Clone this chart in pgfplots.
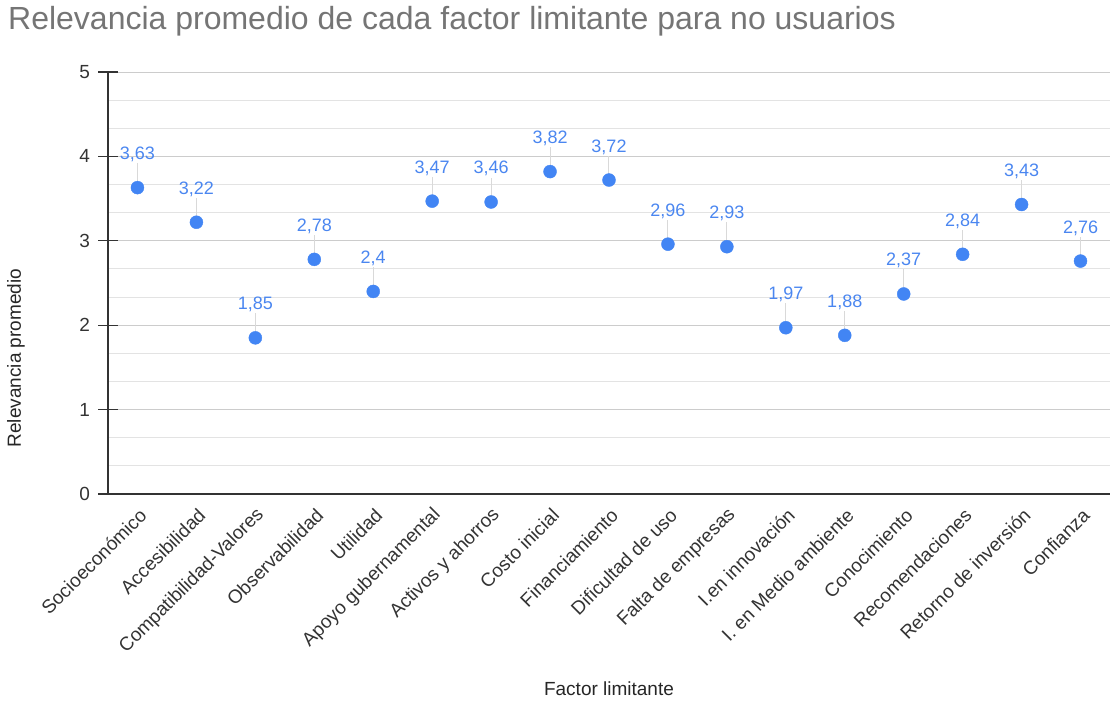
\documentclass[border=0pt]{standalone}
\usepackage{fontspec}
\setmainfont{Liberation Sans}
\usepackage{pgfplots}
\usepackage{pgfplotstable}
\pgfplotsset{compat=1.18}
\definecolor{ptblue}{HTML}{4285F4}
\definecolor{lblblue}{HTML}{4A86F0}
\definecolor{ttlgray}{HTML}{757575}
\definecolor{majgrid}{HTML}{CCCCCC}
\definecolor{mingrid}{HTML}{E3E3E3}
\definecolor{leader}{HTML}{D9D9D9}
\definecolor{axdark}{HTML}{333333}
\pgfplotstableread{
x y err label
0 3.63 0.29 3,63
1 3.22 0.29 3,22
2 1.85 0.29 1,85
3 2.78 0.29 2,78
4 2.40 0.29 2,4
5 3.47 0.29 3,47
6 3.46 0.29 3,46
7 3.82 0.29 3,82
8 3.72 0.29 3,72
9 2.96 0.29 2,96
10 2.93 0.29 2,93
11 1.97 0.29 1,97
12 1.88 0.29 1,88
13 2.37 0.29 2,37
14 2.84 0.29 2,84
15 3.43 0.29 3,43
16 2.76 0.29 2,76
}\datatable
\begin{document}
\begin{tikzpicture}
\node[anchor=base west, text=ttlgray, font=\fontsize{32}{37}\selectfont, inner sep=0pt] at (8pt,675pt) {Relevancia promedio de cada factor limitante para no usuarios};
\begin{axis}[
  at={(108pt,211pt)}, anchor=south west,
  scale only axis, width=1002pt, height=422pt,
  xmin=-0.5, xmax=16.5, ymin=0, ymax=5,
  axis x line=bottom, axis y line=left,
  axis line style={-, draw=axdark, line width=1.3pt},
  xtick=data,
  xticklabels={Socioeconómico,Accesibilidad,Compatibilidad-Valores,Observabilidad,Utilidad,Apoyo gubernamental,Activos y ahorros,Costo inicial,Financiamiento,Dificultad de uso,Falta de empresas,I.en innovación,I. en Medio ambiente,Conocimiento,Recomendaciones,Retorno de inversión,Confianza},
  xtick style={draw=none},
  ytick={0,1,2,3,4,5},
  minor y tick num=2,
  tick align=center,
  major tick length=19pt,
  minor tick length=0pt,
  ytick style={draw=axdark, line width=1.3pt},
  ymajorgrids, yminorgrids,
  major grid style={majgrid, line width=1pt},
  minor grid style={mingrid, line width=1pt},
  /pgf/number format/assume math mode=true,
  tick label style={font=\fontsize{19}{22}\selectfont, text=axdark},
  yticklabel style={anchor=east, xshift=-5pt},
  xticklabel style={rotate=45, anchor=east, inner sep=0pt, xshift=-2pt, yshift=-10pt},
  xlabel={Factor limitante},
  ylabel={Relevancia promedio},
  label style={font=\fontsize{19}{22}\selectfont, text=black!85},
  xlabel style={at={(axis description cs:0.5,-0.462)}, anchor=center},
  ylabel style={at={(axis description cs:-0.0918,0.322)}, anchor=center, rotate=0},
  clip=false,
]
\addplot[only marks, mark=*, mark size=6.5pt, mark options={fill=ptblue, draw=ptblue},
  error bars/.cd, y dir=plus, y explicit, error mark=none,
  error bar style={leader, line width=1pt},
  ]
  table[x=x, y=y, y error plus=err, meta=label]{\datatable};
\addplot[only marks, mark=none,
  point meta=explicit symbolic,
  nodes near coords,
  every node near coord/.append style={anchor=base, yshift=28pt, text=lblblue, font=\fontsize{18}{21}\selectfont, inner sep=0pt},
  ]
  table[x=x, y=y, meta=label]{\datatable};
\end{axis}
\pgfresetboundingbox
\useasboundingbox (0,0) rectangle (1110pt,705pt);
\end{tikzpicture}
\end{document}
